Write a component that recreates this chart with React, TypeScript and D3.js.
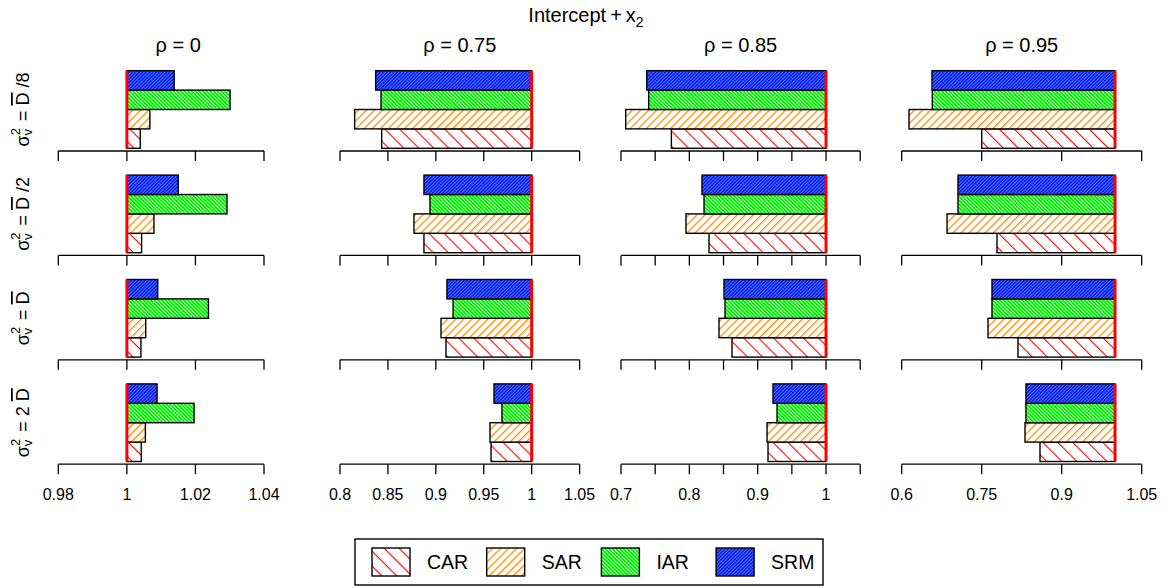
import React from "react";
import * as d3 from "d3";

// Relative efficiency by method, one array per method: [variance row][rho panel]
const methods = ["CAR", "SAR", "IAR", "SRM"];
const rhoLabels = ["0", "0.75", "0.85", "0.95"];
const sigmaLabels = [
  { pre: "", suf: "/8" },
  { pre: "", suf: "/2" },
  { pre: "", suf: "" },
  { pre: "2 ", suf: "" },
];

const carValues = [
  [1.0039, 0.8435, 0.7737, 0.75],
  [1.0043, 0.8876, 0.8288, 0.7787],
  [1.0041, 0.9106, 0.8624, 0.818],
  [1.0042, 0.9576, 0.9151, 0.8593],
];
const sarValues = [
  [1.0067, 0.8153, 0.7069, 0.6137],
  [1.0079, 0.8772, 0.7951, 0.685],
  [1.0055, 0.9054, 0.8434, 0.7618],
  [1.0054, 0.9565, 0.9137, 0.8312],
];
const iarValues = [
  [1.0301, 0.8428, 0.7405, 0.6574],
  [1.0292, 0.8939, 0.8215, 0.7056],
  [1.0238, 0.918, 0.8522, 0.7693],
  [1.0196, 0.969, 0.9283, 0.833],
];
const srmValues = [
  [1.0138, 0.8372, 0.7376, 0.6568],
  [1.015, 0.8876, 0.8185, 0.7056],
  [1.009, 0.9116, 0.8507, 0.7693],
  [1.0088, 0.9607, 0.9224, 0.833],
];
const seriesValues = [carValues, sarValues, iarValues, srmValues];

// Axis ticks per panel, with the labels that are printed
const tickValues = [
  [0.98, 1, 1.02, 1.04],
  [0.8, 0.85, 0.9, 0.95, 1, 1.05],
  [0.7, 0.75, 0.8, 0.85, 0.9, 0.95, 1, 1.05],
  [0.6, 0.75, 0.9, 1.05],
];
const tickLabels = [
  ["0.98", "1", "1.02", "1.04"],
  ["0.8", "0.85", "0.9", "0.95", "1", "1.05"],
  ["0.7", "", "0.8", "", "0.9", "", "1", ""],
  ["0.6", "0.75", "0.9", "1.05"],
];

// Panel geometry: axis extent in data units and in pixels
const panelDomains: [number, number][] = [
  [0.98, 1.04],
  [0.8, 1.05],
  [0.7, 1.05],
  [0.6, 1.05],
];
const panelRanges: [number, number][] = [
  [58.3, 264],
  [340, 579.6],
  [621, 860.2],
  [901.7, 1141.7],
];

const ROW_TOP = 70.7;
const ROW_STEP = 104.4;
const ROW_H = 77.6;
const FONT = "Liberation Sans, Arial, sans-serif";

const fills: Record<string, string> = {
  CAR: "url(#hatchCAR)",
  SAR: "url(#hatchSAR)",
  IAR: "url(#hatchIAR)",
  SRM: "url(#hatchSRM)",
};

function Patterns() {
  return (
    <defs>
      <pattern id="hatchCAR" patternUnits="userSpaceOnUse" width="10.6" height="10.6" patternTransform="rotate(-45)">
        <rect width="10.6" height="10.6" fill="white" />
        <line x1="0" y1="0" x2="0" y2="10.6" stroke="#ff0000" strokeWidth="2.2" />
      </pattern>
      <pattern id="hatchSAR" patternUnits="userSpaceOnUse" width="5.7" height="5.7" patternTransform="rotate(45)">
        <rect width="5.7" height="5.7" fill="white" />
        <line x1="0" y1="0" x2="0" y2="5.7" stroke="#ff8c00" strokeWidth="2.6" />
      </pattern>
      <pattern id="hatchIAR" patternUnits="userSpaceOnUse" width="2.6" height="2.6" patternTransform="rotate(-45)">
        <rect width="2.6" height="2.6" fill="#ffffff" />
        <rect x="0" y="0" width="1.9" height="2.6" fill="#00ee00" />
      </pattern>
      <pattern id="hatchSRM" patternUnits="userSpaceOnUse" width="2.4" height="2.4" patternTransform="rotate(45)">
        <rect width="2.4" height="2.4" fill="#7080ff" />
        <rect x="0" y="0" width="1.8" height="2.4" fill="#0a28f0" />
      </pattern>
    </defs>
  );
}

function SigmaLabel({ row, cx, cy }: { row: number; cx: number; cy: number }) {
  const lab = sigmaLabels[row];
  return (
    <text
      transform={`translate(${cx},${cy}) rotate(-90)`}
      textAnchor="middle"
      fontFamily={FONT}
      fontSize={18}
      dominantBaseline="middle"
    >
      <tspan>σ</tspan>
      <tspan fontSize={13} dy={-7}>2</tspan>
      <tspan fontSize={13} dy={12} dx={-7.5}>v</tspan>
      <tspan dy={-5} dx={3}>{" = " + lab.pre}</tspan>
      <tspan style={{ textDecoration: "overline" }}>D</tspan>
      <tspan>{lab.suf ? " " + lab.suf : ""}</tspan>
    </text>
  );
}

export default function App() {
  const width = 1172;
  const height = 588;

  const panels = rhoLabels.map((rho, p) =>
    d3.scaleLinear().domain(panelDomains[p]).range(panelRanges[p])
  );

  const rows = sigmaLabels.map((_, r) => {
    const top = ROW_TOP + r * ROW_STEP;
    const band = d3
      .scaleBand<string>()
      .domain([...methods].reverse())
      .range([top, top + ROW_H])
      .padding(0);
    return { top, band, axisY: top + ROW_H + 2.7 };
  });

  return (
    <svg
      width={width}
      height={height}
      style={{ position: "absolute", left: 0, top: 0, background: "white" }}
    >
      <Patterns />
      <text x={586} y={22} textAnchor="middle" fontFamily={FONT} fontSize={20}>
        Intercept
        <tspan dx={4}>+</tspan>
        <tspan dx={4}>x</tspan>
        <tspan fontSize={14} dy={5}>2</tspan>
      </text>

      {panels.map((x, p) => {
        const cx = (panelRanges[p][0] + panelRanges[p][1]) / 2 + (p === 0 ? 17 : 0);
        return (
          <text key={"t" + p} x={cx} y={52} textAnchor="middle" fontFamily={FONT} fontSize={20}>
            {"ρ = " + rhoLabels[p]}
          </text>
        );
      })}

      {rows.map((row, r) => (
        <g key={"row" + r}>
          <SigmaLabel row={r} cx={24} cy={row.top + ROW_H / 2} />
          {panels.map((x, p) => {
            const ticks = tickValues[p];
            return (
              <g key={"p" + p}>
                {methods.map((m, k) => {
                  const v = seriesValues[k][r][p];
                  const x0 = Math.min(x(1), x(v));
                  const x1 = Math.max(x(1), x(v));
                  return (
                    <rect
                      key={m}
                      x={x0}
                      y={row.band(m)!}
                      width={x1 - x0}
                      height={row.band.bandwidth()}
                      fill={fills[m]}
                      stroke="black"
                      strokeWidth={1.4}
                    />
                  );
                })}
                <line
                  x1={x(1)}
                  x2={x(1)}
                  y1={row.top}
                  y2={row.top + ROW_H}
                  stroke="#ff0000"
                  strokeWidth={3}
                />
                <line
                  x1={x(ticks[0])}
                  x2={x(ticks[ticks.length - 1])}
                  y1={row.axisY}
                  y2={row.axisY}
                  stroke="black"
                  strokeWidth={1.3}
                />
                {ticks.map((t, i) => (
                  <g key={i}>
                    <line
                      x1={x(t)}
                      x2={x(t)}
                      y1={row.axisY}
                      y2={row.axisY + 10}
                      stroke="black"
                      strokeWidth={1.3}
                    />
                    {r === rows.length - 1 && tickLabels[p][i] !== "" && (
                      <text
                        x={x(t)}
                        y={row.axisY + 36}
                        textAnchor="middle"
                        fontFamily={FONT}
                        fontSize={16}
                      >
                        {tickLabels[p][i]}
                      </text>
                    )}
                  </g>
                ))}
              </g>
            );
          })}
        </g>
      ))}

      <g>
        <rect x={355} y={539} width={468} height={46} fill="white" stroke="black" strokeWidth={1.4} />
        {methods.map((m, i) => (
          <g key={m}>
            <rect
              x={372 + i * 114.7}
              y={548}
              width={38}
              height={28}
              fill={fills[m]}
              stroke="black"
              strokeWidth={1.4}
            />
            <text x={427 + i * 114.7} y={569} fontFamily={FONT} fontSize={19.5}>
              {m}
            </text>
          </g>
        ))}
      </g>
    </svg>
  );
}
